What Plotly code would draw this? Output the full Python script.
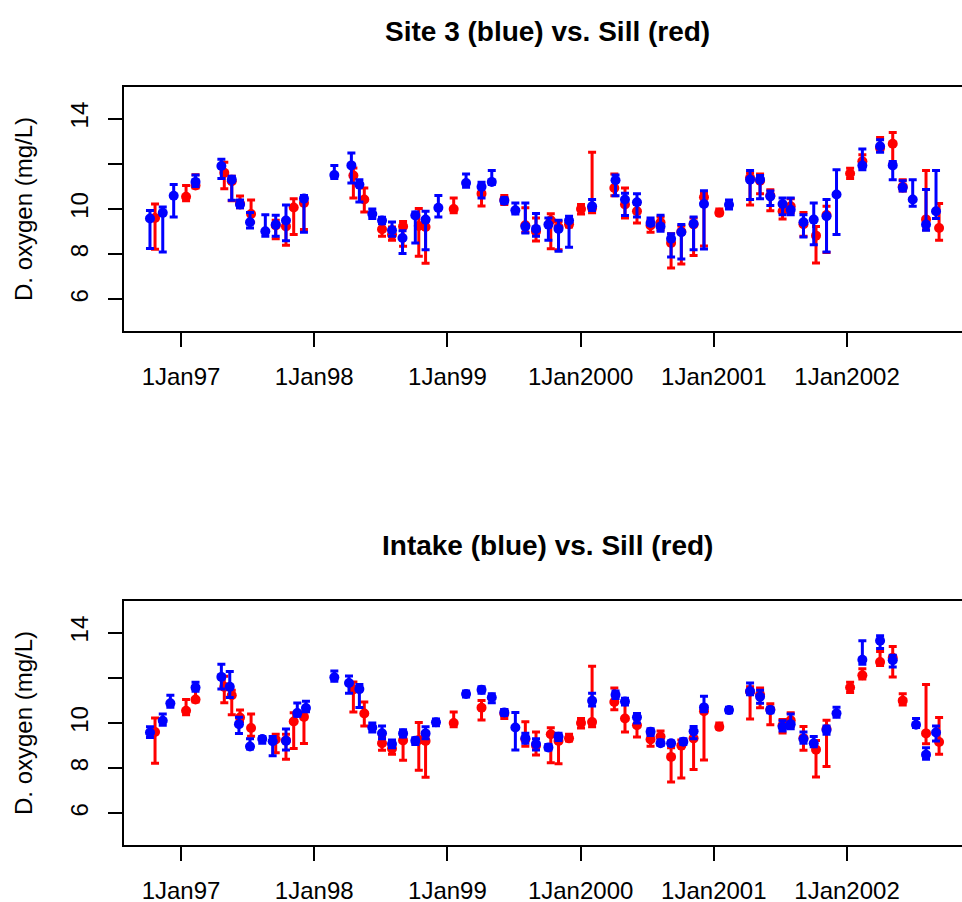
import plotly.graph_objects as go

# ---- Sill (red), shared by both panels: decimal year, mean, low, high ----
sill_t = [1996.805, 1997.038, 1997.109, 1997.325, 1997.381, 1997.443, 1997.526, 1997.711,
          1997.788, 1997.846, 1997.923, 1998.294, 1998.376, 1998.509, 1998.584, 1998.667,
          1998.785, 1998.836, 1999.047, 1999.256, 1999.427, 1999.585, 1999.665, 1999.776,
          1999.834, 1999.913, 2000.003, 2000.086, 2000.253, 2000.333, 2000.423, 2000.525,
          2000.600, 2000.679, 2000.756, 2000.848, 2000.926, 2001.041, 2001.272, 2001.347,
          2001.424, 2001.516, 2001.577, 2001.673, 2001.767, 2001.846, 2002.023, 2002.115,
          2002.248, 2002.343, 2002.418, 2002.593, 2002.691]
sill_y = [9.60, 10.54, 11.04, 11.60, 11.23, 10.24, 9.78, 9.27, 9.23, 10.07, 10.27, 11.48,
          10.42, 9.10, 8.86, 9.23, 9.25, 9.20, 10.00, 10.68, 10.41, 9.28, 9.00, 9.50, 9.20,
          9.32, 10.00, 10.04, 10.93, 10.20, 9.90, 9.27, 9.40, 8.50, 9.00, 9.32, 10.52, 9.83,
          11.38, 11.25, 10.60, 9.90, 10.12, 9.33, 8.82, 9.73, 11.57, 12.11, 12.70, 12.89,
          10.99, 9.54, 9.16]
sill_lo = [8.22, 10.37, 10.93, 10.90, 10.36, 10.05, 9.41, 8.68, 8.39, 8.87, 9.09, 10.49,
           9.87, 8.79, 8.62, 8.35, 7.91, 7.60, 9.83, 10.13, 10.20, 8.97, 8.58, 8.24, 8.20,
           9.20, 9.78, 9.83, 10.59, 9.60, 9.38, 8.97, 9.08, 7.39, 7.57, 7.94, 8.36, 9.75,
           10.18, 10.67, 9.92, 9.56, 9.85, 8.79, 7.61, 8.07, 11.35, 11.95, 12.55, 12.04,
           10.80, 9.08, 8.62]
sill_hi = [10.22, 11.04, 11.52, 12.07, 11.45, 10.58, 10.40, 9.50, 9.50, 10.45, 10.50, 11.82,
           10.93, 9.40, 9.20, 9.45, 10.02, 9.45, 10.49, 11.00, 10.60, 10.05, 9.60, 9.79, 9.45,
           9.50, 10.20, 12.51, 11.55, 10.93, 10.20, 9.50, 9.65, 8.90, 9.25, 9.60, 10.70, 10.00,
           11.60, 11.55, 10.85, 10.15, 10.45, 9.85, 9.23, 10.12, 11.80, 12.40, 13.17, 13.39,
           11.30, 11.70, 10.24]

# ---- Site 3 (blue, top panel) ----
site3_t = [1996.767, 1996.863, 1996.945, 1997.109, 1997.303, 1997.381, 1997.443, 1997.518,
           1997.633, 1997.711, 1997.788, 1997.923, 1998.151, 1998.279, 1998.339, 1998.436,
           1998.509, 1998.584, 1998.663, 1998.759, 1998.836, 1998.932, 1999.140, 1999.256,
           1999.333, 1999.427, 1999.510, 1999.585, 1999.665, 1999.758, 1999.834, 1999.913,
           2000.086, 2000.262, 2000.333, 2000.423, 2000.525, 2000.600, 2000.679, 2000.756,
           2000.848, 2000.926, 2001.114, 2001.272, 2001.347, 2001.424, 2001.516, 2001.577,
           2001.673, 2001.750, 2001.846, 2001.921, 2002.115, 2002.248, 2002.343, 2002.418,
           2002.493, 2002.593, 2002.668]
site3_y = [9.58, 9.83, 10.59, 11.20, 11.90, 11.30, 10.20, 9.41, 9.01, 9.31, 9.49, 10.46,
           11.50, 11.93, 11.08, 9.78, 9.49, 9.06, 8.72, 9.71, 9.53, 10.05, 11.15, 10.98,
           11.20, 10.37, 9.94, 9.22, 9.12, 9.31, 9.12, 9.49, 10.12, 11.27, 10.42, 10.30,
           9.38, 9.23, 8.68, 8.97, 9.35, 10.22, 10.19, 11.30, 11.30, 10.56, 10.22, 9.97,
           9.41, 9.53, 9.68, 10.64, 11.92, 12.78, 11.93, 10.95, 10.42, 9.31, 9.90]
site3_lo = [8.25, 8.10, 9.65, 11.00, 11.35, 10.39, 10.05, 9.16, 8.79, 8.79, 8.60, 8.97,
            11.35, 11.15, 10.31, 9.58, 9.35, 8.79, 8.03, 8.50, 8.20, 9.65, 10.96, 10.49,
            11.08, 10.25, 9.78, 8.94, 8.79, 8.62, 8.13, 8.31, 9.93, 10.59, 9.71, 9.65,
            9.30, 9.01, 7.88, 7.79, 8.20, 8.23, 10.00, 10.42, 10.45, 10.15, 9.75, 9.75,
            8.76, 8.42, 8.10, 8.87, 11.74, 12.51, 11.30, 10.80, 10.12, 9.06, 9.58]
site3_hi = [9.93, 10.09, 11.08, 11.50, 12.20, 11.45, 10.40, 9.85, 9.75, 9.72, 10.18, 10.60,
            11.93, 12.48, 11.29, 10.00, 9.63, 9.43, 9.04, 9.87, 9.90, 10.60, 11.55, 11.18,
            11.70, 10.50, 10.27, 10.27, 9.80, 9.60, 9.50, 9.68, 10.42, 11.50, 10.70, 10.68,
            9.60, 9.72, 8.91, 9.31, 9.65, 10.81, 10.40, 11.70, 11.48, 10.80, 10.49, 10.49,
            9.75, 10.27, 10.42, 11.74, 12.66, 13.07, 12.10, 11.25, 11.30, 10.86, 11.70]

# ---- Intake (blue, bottom panel) ----
intake_t = [1996.767, 1996.863, 1996.920, 1997.109, 1997.303, 1997.366, 1997.435, 1997.518,
            1997.610, 1997.688, 1997.788, 1997.873, 1997.938, 1998.151, 1998.261, 1998.339,
            1998.436, 1998.509, 1998.584, 1998.667, 1998.759, 1998.836, 1998.914, 1999.140,
            1999.256, 1999.333, 1999.427, 1999.510, 1999.585, 1999.665, 1999.758, 1999.834,
            2000.086, 2000.262, 2000.333, 2000.423, 2000.525, 2000.600, 2000.679, 2000.771,
            2000.848, 2000.926, 2001.114, 2001.272, 2001.347, 2001.424, 2001.516, 2001.577,
            2001.673, 2001.750, 2001.846, 2001.921, 2002.115, 2002.248, 2002.343, 2002.518,
            2002.593, 2002.668]
intake_y = [9.58, 10.10, 10.87, 11.57, 12.04, 11.60, 9.95, 8.96, 9.29, 9.19, 9.21, 10.44,
            10.66, 12.02, 11.77, 11.50, 9.80, 9.55, 9.07, 9.54, 9.21, 9.54, 10.03, 11.28,
            11.47, 11.13, 10.47, 9.80, 9.33, 9.07, 8.92, 9.39, 10.98, 11.25, 10.95, 10.25,
            9.61, 9.10, 9.10, 9.17, 9.63, 10.69, 10.57, 11.40, 11.16, 10.57, 9.83, 9.95,
            9.29, 9.10, 9.69, 10.43, 12.80, 13.64, 12.78, 9.92, 8.60, 9.58]
intake_lo = [9.36, 9.90, 10.70, 11.40, 11.50, 11.13, 9.54, 8.85, 9.10, 8.55, 8.80, 10.30,
             10.50, 11.85, 11.32, 10.69, 9.60, 9.30, 8.90, 9.38, 9.05, 9.30, 9.88, 11.15,
             11.32, 10.90, 10.33, 8.81, 9.10, 8.80, 8.80, 9.22, 10.75, 11.08, 10.80, 10.00,
             9.45, 9.00, 9.00, 9.05, 9.30, 10.50, 10.45, 11.25, 10.87, 10.45, 9.65, 9.75,
             9.10, 8.95, 9.50, 10.25, 12.60, 13.30, 12.48, 9.80, 8.40, 9.20]
intake_hi = [9.83, 10.40, 11.23, 11.80, 12.60, 12.28, 10.25, 9.30, 9.40, 9.40, 9.73, 10.88,
             10.96, 12.30, 12.08, 11.70, 10.00, 9.87, 9.25, 9.70, 9.35, 9.83, 10.18, 11.42,
             11.60, 11.30, 10.60, 10.47, 9.55, 9.30, 9.05, 9.55, 11.32, 11.42, 11.10, 10.42,
             9.75, 9.25, 9.20, 9.30, 9.85, 11.18, 10.70, 11.77, 11.45, 10.70, 10.10, 10.40,
             9.60, 9.40, 9.87, 10.70, 13.64, 13.86, 13.00, 10.20, 8.90, 9.87]

x_tickvals = [1997, 1998, 1999, 2000, 2001, 2002]
x_ticktext = ["1Jan97", "1Jan98", "1Jan99", "1Jan2000", "1Jan2001", "1Jan2002"]
y_tickvals = [6, 8, 10, 12, 14]
y_ticktext = ["6", "8", "10", "", "14"]
titles = ["Site 3 (blue) vs. Sill (red)", "Intake (blue) vs. Sill (red)"]
ylabel = "D. oxygen (mg/L)"

RED = "#FF0000"
BLUE = "#0000FF"
FONT = "Liberation Sans, Arial, Helvetica, sans-serif"


def trace(t, y, lo, hi, color, xa, ya):
    return go.Scatter(
        x=t, y=y, mode="markers", xaxis=xa, yaxis=ya, showlegend=False,
        marker=dict(color=color, size=10, line=dict(width=0)),
        error_y=dict(type="data", symmetric=False,
                     array=[h - v for h, v in zip(hi, y)],
                     arrayminus=[v - l for v, l in zip(y, lo)],
                     color=color, thickness=3, width=4),
    )


fig = go.Figure()
fig.add_trace(trace(sill_t, sill_y, sill_lo, sill_hi, RED, "x", "y"))
fig.add_trace(trace(site3_t, site3_y, site3_lo, site3_hi, BLUE, "x", "y"))
fig.add_trace(trace(sill_t, sill_y, sill_lo, sill_hi, RED, "x2", "y2"))
fig.add_trace(trace(intake_t, intake_y, intake_lo, intake_hi, BLUE, "x2", "y2"))

W, H = 962, 902
L, R, T, B = 124, 0, 87, 57
ph = H - T - B  # plot height
top_dom = [(845 - 331) / ph, 1.0]
bot_dom = [0.0, (845 - 601) / ph]

xr = [1996.572, 2002.863]
axcommon_x = dict(range=xr, tickvals=x_tickvals, ticktext=x_ticktext, showgrid=False,
                  zeroline=False, showline=True, linecolor="black", linewidth=2, mirror=True,
                  ticks="outside", ticklen=14, tickwidth=2, tickcolor="black",
                  ticklabelstandoff=9, automargin=False,
                  tickfont=dict(family=FONT, size=24, color="black"))
axcommon_y = dict(range=[4.6, 15.4], tickvals=y_tickvals, ticktext=y_ticktext, showgrid=False,
                  zeroline=False, showline=True, linecolor="black", linewidth=2,
                  ticks="outside", ticklen=14, tickwidth=2, tickcolor="black", tickangle=-90,
                  ticklabelstandoff=10, automargin=False,
                  tickfont=dict(family=FONT, size=24, color="black"))

fig.update_layout(
    template="none",
    width=W, height=H, margin=dict(l=L, r=R, t=T, b=B, pad=0),
    paper_bgcolor="white", plot_bgcolor="white",
    xaxis=dict(domain=[0, 1], anchor="y", **axcommon_x),
    yaxis=dict(domain=top_dom, anchor="x", **axcommon_y),
    xaxis2=dict(domain=[0, 1], anchor="y2", **axcommon_x),
    yaxis2=dict(domain=bot_dom, anchor="x2", **axcommon_y),
)

ann = []
for i, (ty, cy) in enumerate([(31, 209), (545, 723)]):
    ann.append(dict(text="<b>%s</b>" % titles[i], x=547, y=H - ty, xref="paper", yref="paper",
                    showarrow=False, font=dict(family=FONT, size=28, color="black"),
                    xanchor="center", yanchor="middle"))
    ann.append(dict(text=ylabel, x=23, y=H - cy, xref="paper", yref="paper", textangle=-90,
                    showarrow=False, font=dict(family=FONT, size=24, color="black"),
                    xanchor="center", yanchor="middle"))
# convert pixel positions to paper coordinates
for a in ann:
    a["x"] = (a["x"] - L) / (W - L - R)
    a["y"] = (a["y"] - B) / ph
fig.update_layout(annotations=ann)

fig.write_html("out.html")
